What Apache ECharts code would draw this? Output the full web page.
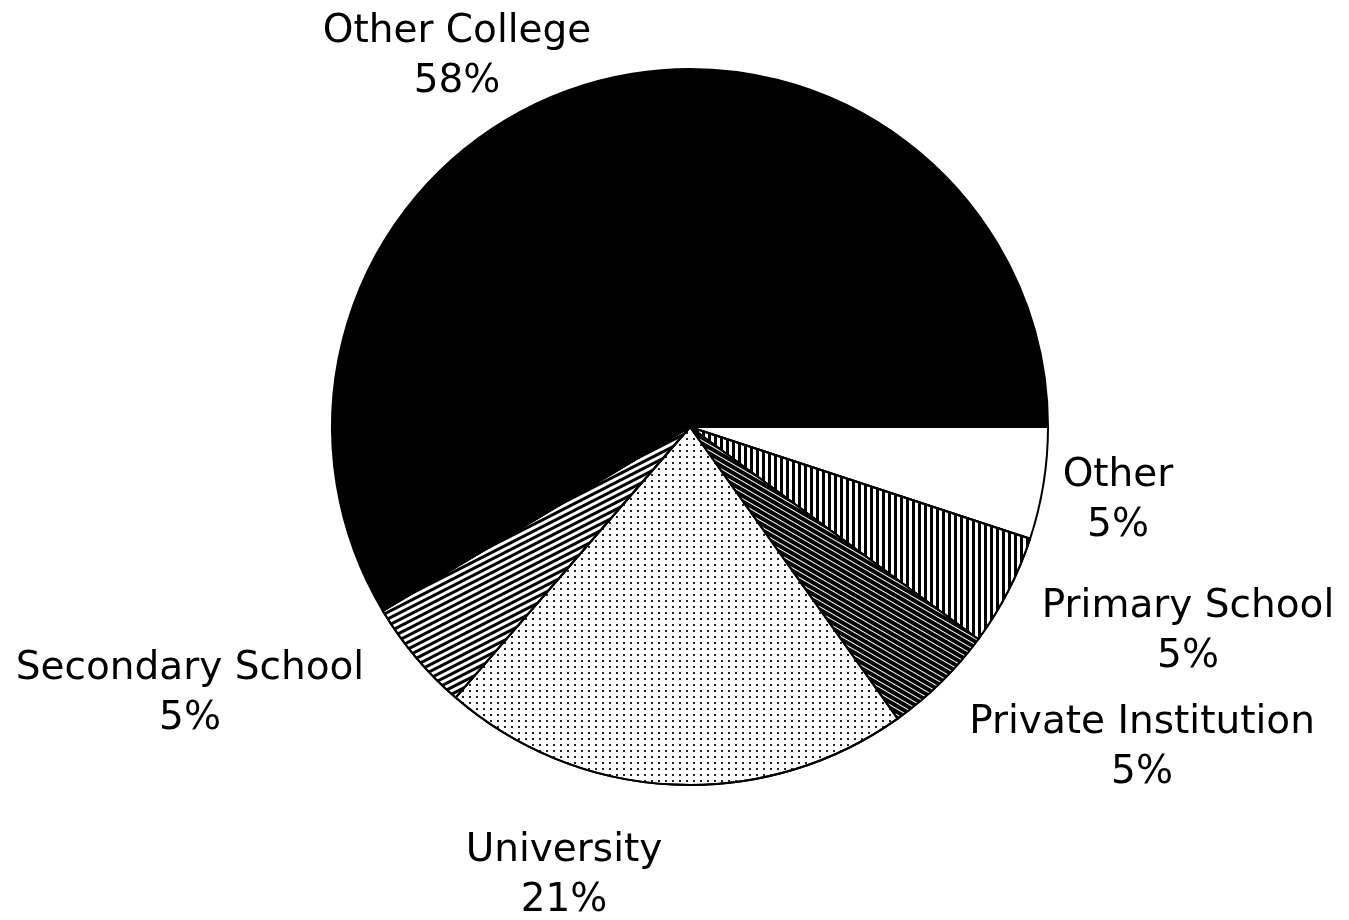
<!DOCTYPE html>
<html>
<head>
<meta charset="utf-8">
<script src="https://cdn.jsdelivr.net/npm/echarts@6/dist/echarts.min.js"></script>
<style>
  html, body { margin: 0; padding: 0; background: #fff; }
  #chart { width: 1349px; height: 920px; }
</style>
</head>
<body>
<div id="chart"></div>
<script>
// ---- data (clockwise from 3 o'clock) ----
const categories = ['Other', 'Primary School', 'Private Institution', 'University', 'Secondary School', 'Other College'];
const values = [5, 5, 5, 21, 5, 58];

// ---- layout / style (kept apart from data) ----
const labelAnchors = [
  [1118, 501], [1188, 632], [1142, 748], [564, 876], [190, 694], [457, 57]
];
const sliceStyles = [
  { color: '#ffffff' },
  { color: '#ffffff', decal: { symbol: 'rect', color: '#000', symbolSize: 1, dashArrayX: [3, 3], dashArrayY: [1, 0], rotation: 0 } },
  { color: '#000000', decal: { symbol: 'rect', color: '#fff', symbolSize: 1, dashArrayX: [1, 0], dashArrayY: [1, 3.5], rotation: Math.PI / 6 } },
  { color: '#ffffff', decal: { symbol: 'rect', color: '#222', symbolSize: 1, dashArrayX: [2, 5], dashArrayY: [2, 4], rotation: 0 } },
  { color: '#ffffff', decal: { symbol: 'rect', color: '#000', symbolSize: 1, dashArrayX: [1, 0], dashArrayY: [2.5, 3], rotation: -Math.PI * 0.15 } },
  { color: '#000000' }
];

const seriesData = categories.map((name, i) => ({
  name: name,
  value: values[i],
  itemStyle: Object.assign({ borderColor: '#000', borderWidth: 2 }, sliceStyles[i])
}));

const chart = echarts.init(document.getElementById('chart'), null, { renderer: 'canvas' });
chart.setOption({
  backgroundColor: '#ffffff',
  animation: false,
  aria: { enabled: true, decal: { show: false } },
  series: [{
    type: 'pie',
    center: [690, 427],
    radius: 358,
    startAngle: 0,
    clockwise: true,
    avoidLabelOverlap: false,
    data: seriesData,
    label: {
      show: true,
      position: 'outside',
      formatter: p => p.name + '\n' + p.value + '%',
      color: '#000',
      fontFamily: 'DejaVu Sans',
      fontSize: 39,
      lineHeight: 50
    },
    labelLine: { show: false },
    labelLayout: function (params) {
      const a = labelAnchors[params.dataIndex];
      return { x: a[0], y: a[1], align: 'center', verticalAlign: 'middle' };
    },
    emphasis: { disabled: true }
  }]
});
</script>
</body>
</html>
